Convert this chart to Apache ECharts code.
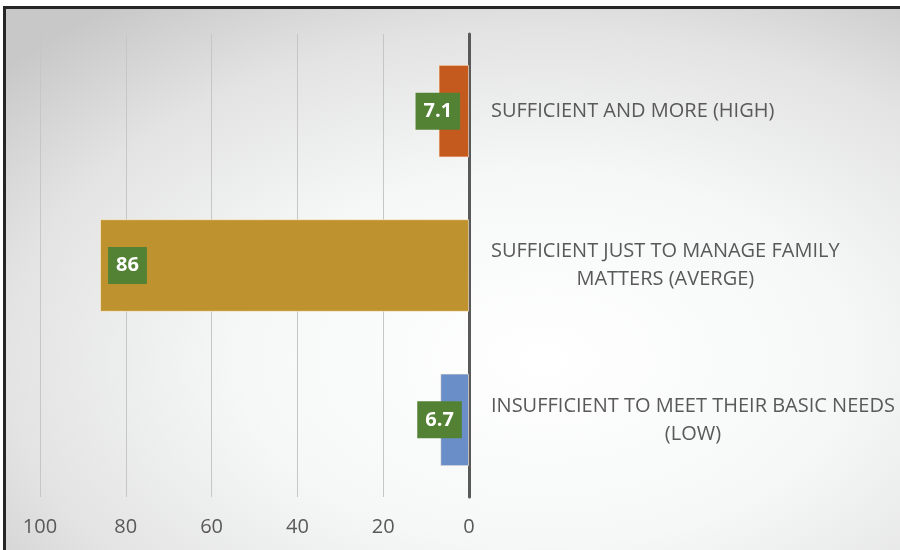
<!DOCTYPE html>
<html>
<head>
<meta charset="utf-8">
<script src="https://cdn.jsdelivr.net/npm/echarts@6/dist/echarts.min.js"></script>
<style>
  html, body { margin: 0; padding: 0; background: #ffffff; }
  #chart { width: 900px; height: 550px; }
</style>
</head>
<body>
<div id="chart"></div>
<script>
// Income adequacy levels, listed bottom to top
const categories = [
  'INSUFFICIENT TO MEET THEIR BASIC NEEDS\n(LOW)',
  'SUFFICIENT JUST TO MANAGE FAMILY\nMATTERS (AVERGE)',
  'SUFFICIENT AND MORE (HIGH)'
];
const values = [6.7, 86, 7.1];
const barColors = ['#6a8ec8', '#be922e', '#c55a1e'];
const xTicks = [0, 20, 40, 60, 80, 100];

const chart = echarts.init(document.getElementById('chart'));

const font = '"Open Sans", "Liberation Sans", sans-serif';
const textGray = '#595959';

chart.setOption({
  backgroundColor: '#ffffff',
  animation: false,
  graphic: [
    {
      // chart-area fill: a square stretched horizontally so the radial fade is elliptical
      type: 'rect',
      z: -20,
      silent: true,
      x: 4,
      y: 7,
      scaleX: 900 / 550,
      shape: { x: 0, y: 0, width: 550, height: 550 },
      style: {
        fill: {
          type: 'radial', x: 0.6, y: 0.64, r: 0.8,
          colorStops: [
            { offset: 0, color: '#ffffff' },
            { offset: 0.42, color: '#f6f7f7' },
            { offset: 0.75, color: '#e3e3e3' },
            { offset: 1, color: '#c8c8c8' }
          ]
        }
      }
    },
    {
      // outer frame (top and left edges fall inside the view)
      type: 'polyline',
      z: -10,
      silent: true,
      shape: { points: [[4.5, 560], [4.5, 7.5], [910, 7.5]] },
      style: { stroke: '#262626', lineWidth: 3, fill: null }
    }
  ],
  grid: { left: 40, right: 431, top: 34, bottom: 53 },
  xAxis: {
    type: 'value',
    inverse: true,
    min: 0, max: 100, interval: 20,
    axisLine: { show: false },
    axisTick: { show: false },
    splitLine: { lineStyle: { color: '#c6c6c6', width: 1 } },
    axisLabel: {
      margin: 20,
      color: textGray,
      fontSize: 20,
      fontFamily: font,
      formatter: v => xTicks.includes(v) ? String(v) : ''
    }
  },
  yAxis: {
    type: 'category',
    position: 'right',
    data: categories,
    axisLine: { show: true, onZero: false, lineStyle: { color: '#595959', width: 3 } },
    axisTick: { show: false },
    axisLabel: {
      margin: 22,
      align: 'left',
      fontFamily: font,
      formatter: v => v.split('\n').map(s => '{c|' + s + '}').join('\n'),
      rich: {
        c: { align: 'center', color: textGray, fontSize: 20, lineHeight: 28, fontFamily: font }
      }
    }
  },
  series: [{
    type: 'bar',
    barCategoryGap: '40%',
    data: values.map((v, i) => ({
      value: v,
      itemStyle: { color: barColors[i] },
      label: { position: v > 20 ? [8, '50%'] : [-23, '50%'] }
    })),
    itemStyle: { borderColor: 'rgba(255,240,220,0.6)', borderWidth: 1 },
    label: {
      show: true,
      align: 'left',
      verticalAlign: 'middle',
      color: '#ffffff',
      fontWeight: 'bold',
      fontSize: 20,
      lineHeight: 20,
      fontFamily: font,
      backgroundColor: '#548235',
      padding: [9, 8, 8, 8],
      formatter: p => String(p.value)
    }
  }]
});
</script>
</body>
</html>
